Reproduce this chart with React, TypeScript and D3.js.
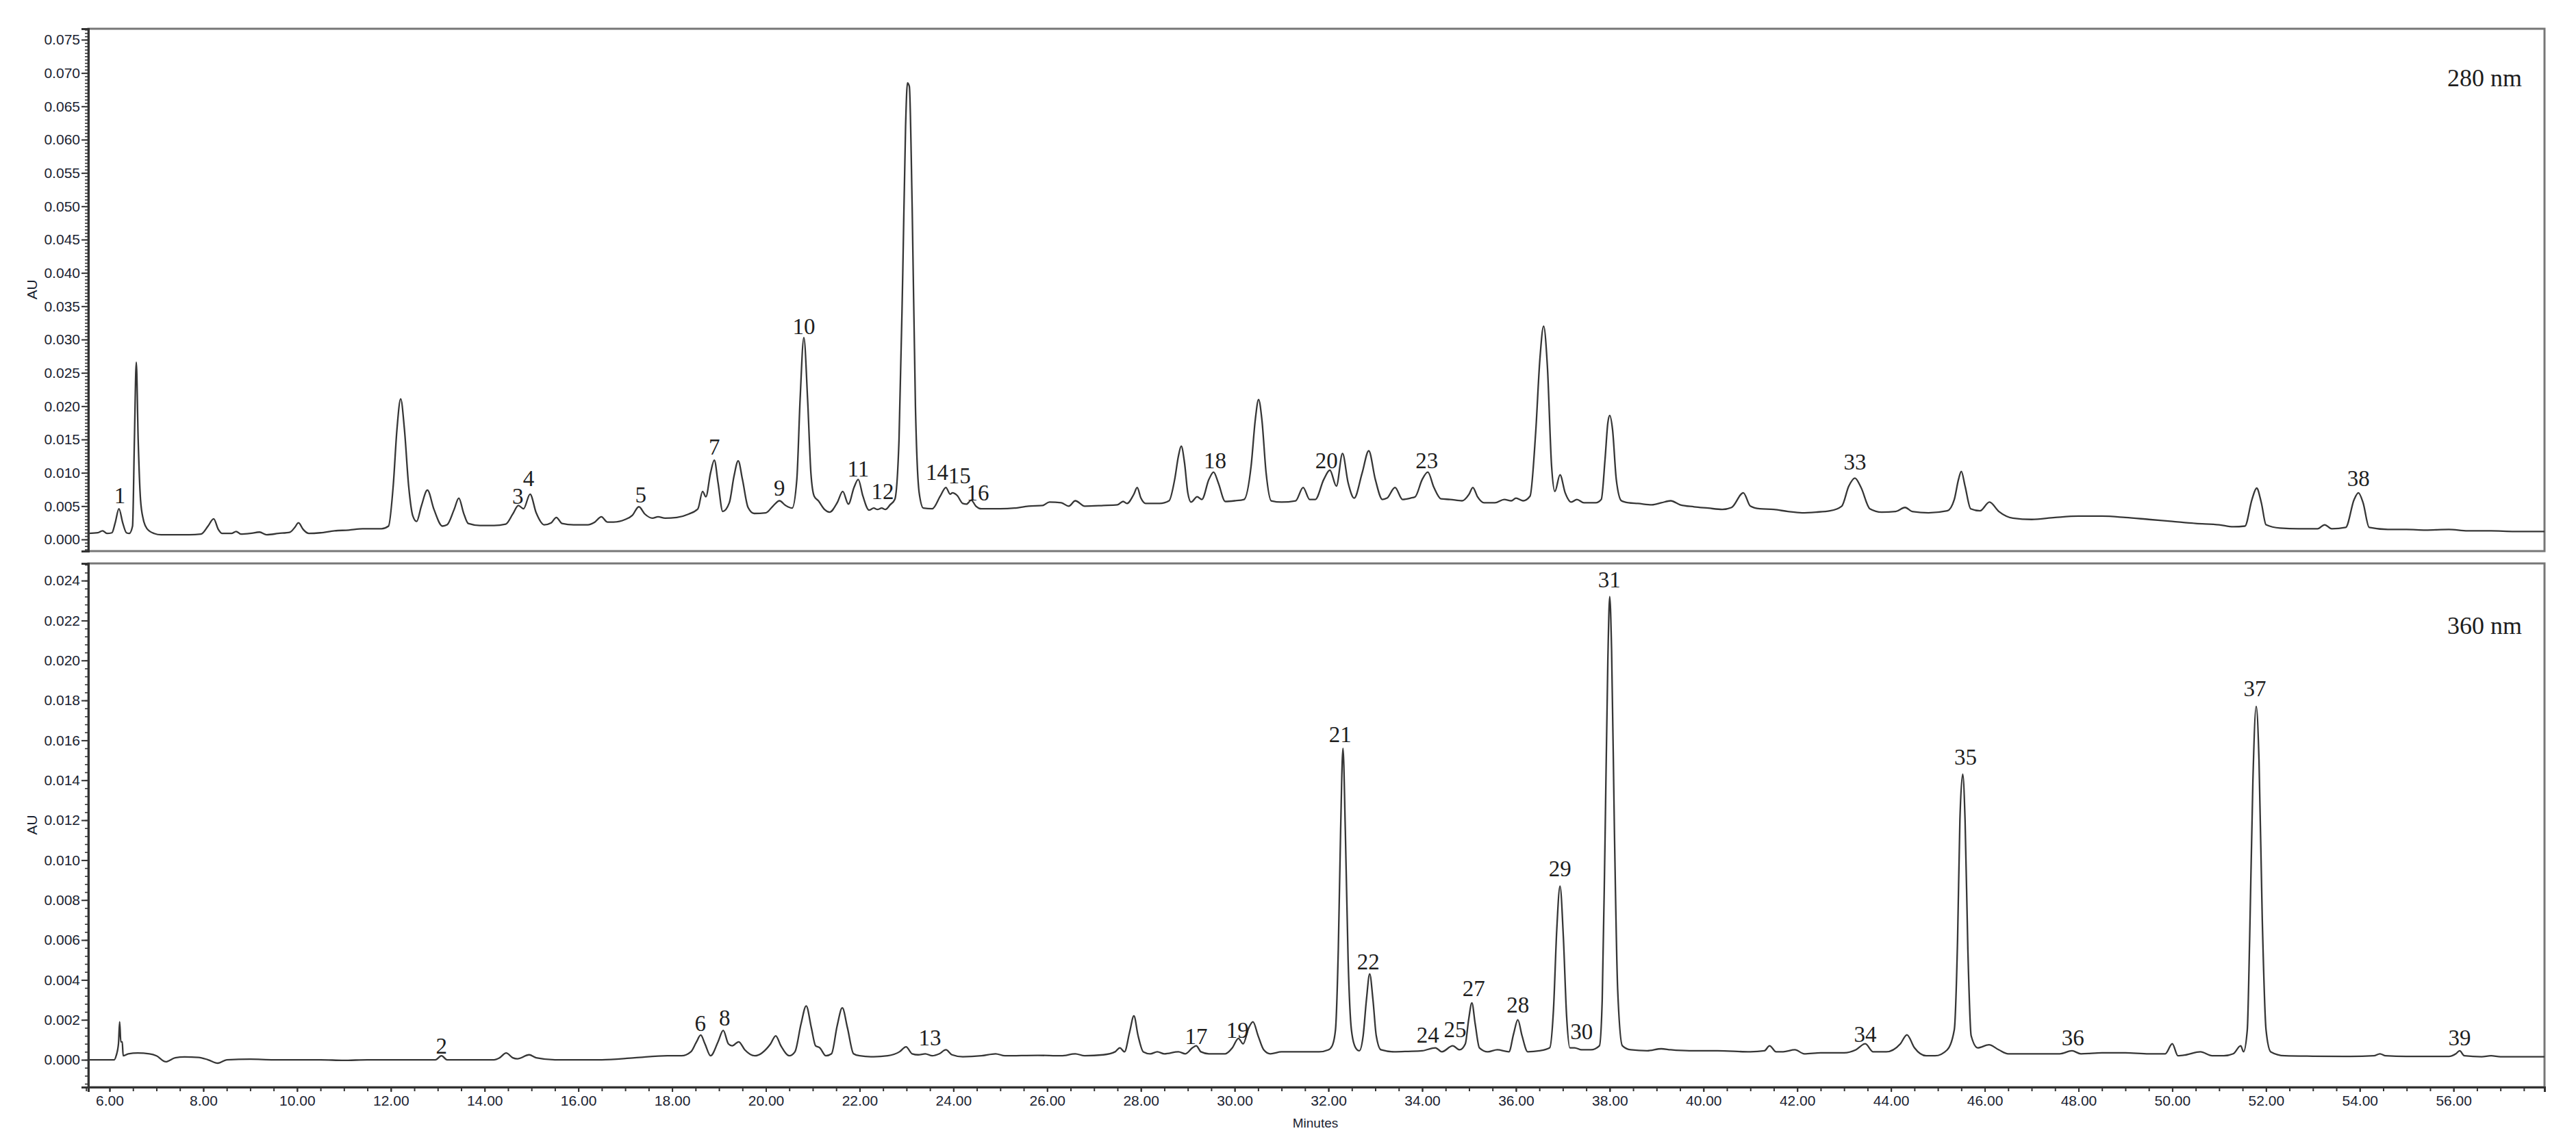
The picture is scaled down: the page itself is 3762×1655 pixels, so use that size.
import React, { useEffect, useRef } from 'react'
import * as d3 from 'd3'

// chromatogram traces: [minutes, AU]
const trace280: [number, number][] = [
  [5.55, 0.0009], [5.75, 0.0010], [5.85, 0.0013], [5.95, 0.0009], [6.05, 0.0010],
  [6.12, 0.0025], [6.20, 0.0046], [6.28, 0.0025], [6.36, 0.0010], [6.42, 0.0009],
  [6.49, 0.0020], [6.53, 0.0150], [6.57, 0.0266], [6.61, 0.0150], [6.66, 0.0060], [6.72, 0.0030], [6.80, 0.0016], [6.95, 0.0009],
  [7.1, 0.0007], [7.4, 0.0007], [7.7, 0.0007], [7.95, 0.0008],
  [8.10, 0.0020], [8.22, 0.0031], [8.32, 0.0015], [8.40, 0.0009], [8.6, 0.0009], [8.7, 0.0012], [8.8, 0.0008], [9.0, 0.0009],
  [9.2, 0.0011], [9.35, 0.0007], [9.6, 0.0009], [9.85, 0.0011],
  [9.95, 0.0018], [10.03, 0.0025], [10.13, 0.0015], [10.25, 0.0009], [10.5, 0.0010], [10.8, 0.0013], [11.1, 0.0014], [11.4, 0.0016],
  [11.8, 0.0016], [11.95, 0.0020],
  [12.05, 0.0080], [12.13, 0.0165], [12.21, 0.0211], [12.29, 0.0165], [12.38, 0.0080], [12.47, 0.0035], [12.55, 0.0027],
  [12.65, 0.0050], [12.78, 0.0074], [12.92, 0.0045], [13.1, 0.0020], [13.2, 0.0022],
  [13.35, 0.0045], [13.45, 0.0062], [13.55, 0.0040], [13.65, 0.0024], [13.9, 0.0021], [14.2, 0.0021], [14.45, 0.0023],
  [14.6, 0.0038], [14.72, 0.0051], [14.83, 0.0046], [14.97, 0.0068], [15.1, 0.0040], [15.27, 0.0022],
  [15.42, 0.0025], [15.53, 0.0033], [15.65, 0.0024], [15.9, 0.0022], [16.2, 0.0022], [16.35, 0.0026], [16.49, 0.0034],
  [16.62, 0.0026], [16.75, 0.0026], [17.0, 0.0030], [17.15, 0.0036],
  [17.29, 0.0049], [17.42, 0.0038], [17.58, 0.0032], [17.7, 0.0034], [17.85, 0.0032], [18.1, 0.0033], [18.35, 0.0038], [18.55, 0.0046],
  [18.65, 0.0072], [18.72, 0.0064],
  [18.82, 0.0100], [18.9, 0.0119], [18.98, 0.0085], [19.08, 0.0042],
  [19.22, 0.0055], [19.32, 0.0095], [19.41, 0.0118], [19.5, 0.0090], [19.62, 0.0048], [19.75, 0.0039], [20.0, 0.0040],
  [20.15, 0.0050], [20.29, 0.0058], [20.42, 0.0051], [20.56, 0.0047],
  [20.66, 0.0090], [20.73, 0.0210], [20.81, 0.0303], [20.89, 0.0210], [20.96, 0.0100], [21.03, 0.0065], [21.12, 0.0058],
  [21.25, 0.0045], [21.36, 0.0041],
  [21.52, 0.0055], [21.64, 0.0072], [21.76, 0.0053],
  [21.88, 0.0078], [21.97, 0.0090], [22.07, 0.0065], [22.2, 0.0044],
  [22.3, 0.0047], [22.38, 0.0045], [22.47, 0.0047], [22.55, 0.0045], [22.65, 0.0052], [22.75, 0.0060],
  [22.84, 0.0150], [22.92, 0.0400], [22.98, 0.0620], [23.02, 0.0685], [23.06, 0.0680], [23.12, 0.0500], [23.19, 0.0200],
  [23.27, 0.0070], [23.36, 0.0047], [23.55, 0.0046],
  [23.72, 0.0065], [23.84, 0.0078], [23.93, 0.0068], [23.98, 0.0070], [24.08, 0.0066], [24.2, 0.0054], [24.28, 0.0053],
  [24.38, 0.0059], [24.48, 0.0050], [24.6, 0.0046], [25.0, 0.0046], [25.3, 0.0047], [25.6, 0.0050], [25.9, 0.0051],
  [26.05, 0.0056], [26.3, 0.0055], [26.46, 0.0050], [26.6, 0.0058], [26.8, 0.0050], [27.2, 0.0051], [27.5, 0.0052],
  [27.62, 0.0057], [27.7, 0.0054],
  [27.85, 0.0068], [27.92, 0.0078], [28.0, 0.0062], [28.1, 0.0054], [28.4, 0.0054], [28.6, 0.0058],
  [28.72, 0.0090], [28.8, 0.0125], [28.86, 0.0140], [28.93, 0.0115], [29.0, 0.0070], [29.07, 0.0056], [29.2, 0.0064], [29.3, 0.0060],
  [29.45, 0.0090], [29.55, 0.0101], [29.65, 0.0085], [29.8, 0.0057], [30.0, 0.0058], [30.2, 0.0060],
  [30.35, 0.0110], [30.44, 0.0180], [30.51, 0.0210], [30.58, 0.0180], [30.67, 0.0100], [30.78, 0.0058], [31.0, 0.0056], [31.3, 0.0058],
  [31.46, 0.0078], [31.6, 0.0060], [31.72, 0.0060],
  [31.9, 0.0090], [32.03, 0.0104], [32.17, 0.0080], [32.3, 0.0129], [32.42, 0.0085], [32.55, 0.0062],
  [32.72, 0.0100], [32.86, 0.0133], [33.0, 0.0090], [33.15, 0.0060], [33.25, 0.0062],
  [33.42, 0.0078], [33.58, 0.0060], [33.75, 0.0062], [33.85, 0.0064],
  [34.0, 0.0090], [34.12, 0.0101], [34.25, 0.0078], [34.4, 0.0061], [34.6, 0.0060], [34.85, 0.0058],
  [35.0, 0.0068], [35.08, 0.0078], [35.18, 0.0064], [35.32, 0.0055], [35.55, 0.0055], [35.75, 0.0060], [35.9, 0.0058],
  [36.0, 0.0062], [36.15, 0.0058], [36.3, 0.0065],
  [36.42, 0.0160], [36.51, 0.0270], [36.59, 0.0320], [36.67, 0.0260], [36.76, 0.0110], [36.83, 0.0072],
  [36.94, 0.0097], [37.05, 0.0070], [37.18, 0.0056], [37.3, 0.0060], [37.45, 0.0055], [37.7, 0.0055], [37.82, 0.0060],
  [37.9, 0.0120], [37.96, 0.0175], [38.0, 0.0186], [38.06, 0.0165], [38.14, 0.0090], [38.25, 0.0058], [38.4, 0.0055],
  [38.6, 0.0054], [38.9, 0.0052], [39.1, 0.0055], [39.3, 0.0058], [39.5, 0.0052], [39.8, 0.0049], [40.1, 0.0047],
  [40.4, 0.0045], [40.6, 0.0048],
  [40.85, 0.0070], [41.0, 0.0050], [41.2, 0.0046], [41.5, 0.0045], [41.8, 0.0042], [42.1, 0.0040], [42.4, 0.0041],
  [42.7, 0.0043], [42.95, 0.0050],
  [43.1, 0.0080], [43.23, 0.0092], [43.36, 0.0078], [43.55, 0.0046], [43.8, 0.0041], [44.1, 0.0042], [44.3, 0.0048],
  [44.45, 0.0042], [44.8, 0.0040], [45.2, 0.0043], [45.35, 0.0060],
  [45.44, 0.0090], [45.5, 0.0102], [45.58, 0.0080], [45.7, 0.0046], [45.9, 0.0043], [46.1, 0.0056], [46.3, 0.0042],
  [46.6, 0.0032], [47.0, 0.0030], [47.5, 0.0033], [48.0, 0.0035], [48.5, 0.0035], [49.0, 0.0033], [49.5, 0.0030],
  [50.0, 0.0027], [50.5, 0.0024], [51.0, 0.0022], [51.3, 0.0019], [51.55, 0.0020],
  [51.7, 0.0060], [51.8, 0.0077], [51.9, 0.0055], [52.0, 0.0022], [52.3, 0.0017], [52.7, 0.0016], [53.1, 0.0016],
  [53.25, 0.0022], [53.4, 0.0016], [53.7, 0.0018],
  [53.88, 0.0060], [53.97, 0.0070], [54.07, 0.0055], [54.2, 0.0018], [54.6, 0.0015], [55.0, 0.0015], [55.4, 0.0014],
  [55.9, 0.0015], [56.3, 0.0013], [56.8, 0.0013], [57.3, 0.0012], [57.94, 0.0012]
]

const trace360: [number, number][] = [
  [5.55, 0.0], [6.1, 0.0], [6.14, 0.0002], [6.19, 0.0008], [6.215, 0.0019], [6.24, 0.0009], [6.27, 0.0009], [6.29, 0.0002],
  [6.4, 0.0003], [6.6, 0.00034], [6.85, 0.0003], [7.0, 0.0002], [7.2, -0.0001], [7.4, 0.0001], [7.6, 0.00014], [7.9, 0.00012],
  [8.1, 0.0], [8.31, -0.00017], [8.5, 0.0], [9.0, 0.00003], [9.5, 0.0], [10.0, 0.0], [10.5, 0.0], [11.0, -0.00003],
  [11.5, 0.0], [12.0, 0.0], [12.95, 0.0],
  [13.08, 0.0002], [13.2, 0.0], [14.2, 0.0], [14.32, 0.0001],
  [14.46, 0.00034], [14.6, 0.0001], [14.7, 0.00005], [14.95, 0.00025], [15.1, 0.0001], [15.5, 0.0], [16.5, 0.0],
  [17.2, 0.0001], [17.9, 0.0002], [18.2, 0.0002], [18.4, 0.0004],
  [18.52, 0.0009], [18.61, 0.00124], [18.7, 0.0008], [18.82, 0.0002],
  [18.98, 0.0009], [19.09, 0.00147], [19.2, 0.0008], [19.28, 0.0007], [19.42, 0.0009], [19.55, 0.0005], [19.76, 0.0002],
  [20.1, 0.0008], [20.21, 0.0012], [20.32, 0.0007], [20.5, 0.0002], [20.62, 0.0004],
  [20.75, 0.0018], [20.86, 0.0027], [20.97, 0.0016], [21.06, 0.0007], [21.15, 0.0006], [21.28, 0.0002], [21.4, 0.0003],
  [21.52, 0.0017], [21.63, 0.0026], [21.74, 0.0016], [21.87, 0.0003], [22.0, 0.0002], [22.3, 0.00015], [22.6, 0.0002],
  [22.85, 0.0004], [22.99, 0.00065], [23.12, 0.0003], [23.25, 0.00025], [23.4, 0.0003], [23.55, 0.0002], [23.7, 0.0003],
  [23.84, 0.0005], [23.97, 0.00025], [24.2, 0.00015], [24.6, 0.0002], [24.9, 0.0003], [25.1, 0.0002], [25.8, 0.00022],
  [26.3, 0.0002], [26.6, 0.0003], [26.8, 0.0002], [27.2, 0.00025], [27.45, 0.0004], [27.55, 0.0006], [27.65, 0.0004],
  [27.76, 0.0014], [27.85, 0.0022], [27.94, 0.0012], [28.05, 0.0004], [28.2, 0.0003], [28.35, 0.0004], [28.5, 0.0003],
  [28.8, 0.0004], [28.95, 0.0003],
  [29.1, 0.0006], [29.18, 0.0007], [29.28, 0.0004], [29.45, 0.0003], [29.8, 0.0003], [29.95, 0.0006],
  [30.08, 0.00107], [30.18, 0.0008], [30.3, 0.0016], [30.39, 0.0019], [30.5, 0.0012], [30.62, 0.0005], [30.76, 0.0003],
  [31.0, 0.0004], [31.2, 0.0004], [31.5, 0.0004], [31.8, 0.0004], [32.0, 0.0005], [32.08, 0.0007],
  [32.15, 0.0015], [32.21, 0.0055], [32.26, 0.0115], [32.31, 0.0156], [32.36, 0.0115], [32.42, 0.0050], [32.49, 0.0015],
  [32.58, 0.0006], [32.66, 0.00045],
  [32.74, 0.0012], [32.81, 0.0030], [32.88, 0.0043], [32.95, 0.0030], [33.02, 0.0012], [33.12, 0.0005], [33.4, 0.0004],
  [33.7, 0.00042], [34.0, 0.00045],
  [34.28, 0.0006], [34.42, 0.0004], [34.65, 0.0007], [34.8, 0.0005], [34.92, 0.0008],
  [34.99, 0.0020], [35.06, 0.00285], [35.13, 0.0018], [35.22, 0.0006], [35.4, 0.0004], [35.6, 0.0005], [35.85, 0.0004],
  [35.95, 0.0013], [36.04, 0.0020], [36.13, 0.0012], [36.25, 0.0004], [36.5, 0.00045], [36.72, 0.0006],
  [36.8, 0.0025], [36.87, 0.0065], [36.94, 0.0087], [37.01, 0.0062], [37.08, 0.0022], [37.15, 0.0006], [37.25, 0.0006],
  [37.4, 0.0005], [37.6, 0.0005], [37.78, 0.0007],
  [37.84, 0.0030], [37.9, 0.0110], [37.96, 0.0200], [38.0, 0.0232], [38.04, 0.0205], [38.1, 0.0115], [38.17, 0.0035],
  [38.27, 0.0007], [38.45, 0.0005], [38.8, 0.00045], [39.1, 0.00055], [39.3, 0.0005], [39.7, 0.00045], [40.3, 0.00045],
  [41.0, 0.0004], [41.3, 0.00045],
  [41.41, 0.0007], [41.55, 0.0004], [41.7, 0.0004], [41.95, 0.0005], [42.15, 0.0003], [42.5, 0.00035], [43.0, 0.00035],
  [43.25, 0.0005], [43.45, 0.0008], [43.62, 0.0004], [43.9, 0.0004], [44.2, 0.0008],
  [44.34, 0.00125], [44.5, 0.0006], [44.75, 0.0002], [44.94, 0.0002], [45.2, 0.0005], [45.35, 0.0015],
  [45.42, 0.0060], [45.47, 0.0120], [45.53, 0.0143], [45.58, 0.0120], [45.64, 0.0055], [45.71, 0.0012], [45.85, 0.0006],
  [46.09, 0.00075], [46.3, 0.0005], [46.5, 0.0003], [47.0, 0.0003], [47.6, 0.0003],
  [47.86, 0.00045], [48.05, 0.0003], [48.5, 0.00035], [49.0, 0.00035], [49.5, 0.0003], [49.85, 0.0003],
  [50.0, 0.0008], [50.12, 0.0002], [50.3, 0.00025], [50.6, 0.0004], [50.85, 0.0002], [51.1, 0.0002], [51.3, 0.0003],
  [51.46, 0.0007], [51.52, 0.0004], [51.6, 0.0015],
  [51.65, 0.0060], [51.72, 0.0140], [51.79, 0.0177], [51.85, 0.0150], [51.92, 0.0070], [52.0, 0.0015], [52.1, 0.0004],
  [52.4, 0.0002], [53.0, 0.00018], [53.8, 0.00017], [54.3, 0.0002],
  [54.43, 0.0003], [54.55, 0.0002], [55.0, 0.00017], [55.9, 0.00017],
  [56.05, 0.0003], [56.13, 0.00045], [56.23, 0.0002], [56.6, 0.00015], [56.8, 0.0002], [57.0, 0.00015], [57.94, 0.00015]
]

// peak numbers: [label, minutes at label centre, AU at label centre]
const peaks280: [string, number, number][] = [
  ['1', 6.22, 0.0066], ['3', 14.71, 0.0065], ['4', 14.94, 0.0092], ['5', 17.33, 0.0067],
  ['7', 18.9, 0.0139], ['9', 20.29, 0.0078], ['10', 20.81, 0.032], ['11', 21.97, 0.0106],
  ['12', 22.49, 0.0072], ['14', 23.65, 0.0101], ['15', 24.13, 0.0096], ['16', 24.52, 0.007],
  ['18', 29.58, 0.0119], ['20', 31.96, 0.0119], ['23', 34.1, 0.0119], ['33', 43.23, 0.0117],
  ['38', 53.97, 0.0092]
]

const peaks360: [string, number, number][] = [
  ['2', 13.08, 0.00072], ['6', 18.6, 0.00183], ['8', 19.12, 0.0021], ['13', 23.5, 0.00113],
  ['17', 29.18, 0.0012], ['19', 30.06, 0.0015], ['21', 32.25, 0.0163], ['22', 32.85, 0.00494],
  ['24', 34.12, 0.00127], ['25', 34.7, 0.00154], ['27', 35.1, 0.0036], ['28', 36.04, 0.00278],
  ['29', 36.94, 0.0096], ['30', 37.4, 0.00144], ['31', 37.99, 0.02404], ['34', 43.45, 0.0013],
  ['35', 45.59, 0.01516], ['36', 47.88, 0.00113], ['37', 51.76, 0.0186], ['39', 56.13, 0.00113]
]

const auTicks280 = [0, 0.005, 0.01, 0.015, 0.02, 0.025, 0.03, 0.035, 0.04, 0.045, 0.05, 0.055, 0.06, 0.065, 0.07, 0.075]
const auTicks360 = [0, 0.002, 0.004, 0.006, 0.008, 0.01, 0.012, 0.014, 0.016, 0.018, 0.02, 0.022, 0.024]
const minuteTicks = [6, 8, 10, 12, 14, 16, 18, 20, 22, 24, 26, 28, 30, 32, 34, 36, 38, 40, 42, 44, 46, 48, 50, 52, 54, 56]

const W = 3762, H = 1655
const left = 129, right = 3716
const sans = 'Liberation Sans, Arial, sans-serif'
const serif = 'Liberation Serif, Times New Roman, serif'
const inkAxis = '#1a2230'

function App() {
  const ref = useRef<SVGSVGElement>(null)

  useEffect(() => {
    const svg = d3.select(ref.current)
    svg.selectAll('*').remove()

    const x = d3.scaleLinear().domain([5.547, 57.94]).range([left, right])

    const panels = [
      { trace: trace280, peaks: peaks280, ticks: auTicks280, dom: [-0.00175, 0.07664], top: 42, bottom: 805, minor: 0.0005, tag: '280 nm', tagY: 126, auY: 423 },
      { trace: trace360, peaks: peaks360, ticks: auTicks360, dom: [-0.00137, 0.02486], top: 823, bottom: 1588, minor: 0.0004, tag: '360 nm', tagY: 926, auY: 1205 }
    ]

    panels.forEach((p, i) => {
      const y = d3.scaleLinear().domain(p.dom).range([p.bottom, p.top])
      const g = svg.append('g')

      g.append('clipPath').attr('id', 'clip' + i)
        .append('rect').attr('x', left).attr('y', p.top).attr('width', right - left).attr('height', p.bottom - p.top)

      // frame
      g.append('rect')
        .attr('x', left).attr('y', p.top)
        .attr('width', right - left).attr('height', p.bottom - p.top)
        .attr('fill', 'none').attr('stroke', '#777').attr('stroke-width', 3)

      // minor ticks
      const minors = d3.range(Math.ceil(p.dom[0] / p.minor) * p.minor, p.dom[1], p.minor)
      const minorAxis = g.append('g').attr('transform', `translate(${left},0)`)
        .call(d3.axisLeft(y).tickValues(minors).tickFormat(() => '').tickSize(5))
      minorAxis.select('.domain').remove()
      minorAxis.selectAll('line').attr('stroke', '#333').attr('stroke-width', 1.6)

      const yAxis = g.append('g').attr('transform', `translate(${left},0)`)
        .call(d3.axisLeft(y).tickValues(p.ticks).tickFormat(d3.format('.3f')).tickSize(10).tickPadding(2))
      yAxis.select('.domain').attr('stroke', '#333').attr('stroke-width', 3)
      yAxis.selectAll('line').attr('stroke', '#333').attr('stroke-width', 2)
      yAxis.selectAll('text').attr('font-family', sans).attr('font-size', 21).attr('fill', inkAxis)

      g.append('text')
        .attr('transform', `translate(47,${p.auY}) rotate(-90)`)
        .attr('text-anchor', 'middle').attr('dy', '0.35em')
        .attr('font-family', sans).attr('font-size', 21).attr('fill', inkAxis)
        .text('AU')

      const line = d3.line<[number, number]>()
        .x(d => x(d[0]))
        .y(d => y(d[1]))
        .curve(d3.curveMonotoneX)

      g.append('path')
        .datum(p.trace)
        .attr('clip-path', `url(#clip${i})`)
        .attr('d', line)
        .attr('fill', 'none')
        .attr('stroke', '#363636')
        .attr('stroke-width', 2.3)
        .attr('stroke-linejoin', 'round')

      g.selectAll('text.peak').data(p.peaks).join('text')
        .attr('class', 'peak')
        .attr('x', d => x(d[1]))
        .attr('y', d => y(d[2]))
        .attr('dy', '0.35em')
        .attr('text-anchor', 'middle')
        .attr('font-family', serif).attr('font-size', 33).attr('fill', '#1e1e1e')
        .text(d => d[0])

      g.append('text')
        .attr('x', 3683).attr('y', p.tagY)
        .attr('text-anchor', 'end')
        .attr('font-family', serif).attr('font-size', 36).attr('fill', '#1e1e1e')
        .text(p.tag)
    })

    // time axis under the 360 nm panel
    const axisY = 1588
    const minorT = svg.append('g').attr('transform', `translate(0,${axisY})`)
      .call(d3.axisBottom(x).tickValues(d3.range(5.5, 57.95, 0.5)).tickFormat(() => '').tickSize(6))
    minorT.select('.domain').remove()
    minorT.selectAll('line').attr('stroke', '#333').attr('stroke-width', 2)

    const xAxis = svg.append('g').attr('transform', `translate(0,${axisY})`)
      .call(d3.axisBottom(x).tickValues(minuteTicks).tickFormat(d3.format('.2f')).tickSize(7).tickPadding(5))
    xAxis.select('.domain').attr('stroke', '#333').attr('stroke-width', 3)
    xAxis.selectAll('line').attr('stroke', '#333').attr('stroke-width', 2)
    xAxis.selectAll('text').attr('font-family', sans).attr('font-size', 21).attr('fill', inkAxis)

    svg.append('text')
      .attr('x', 1921).attr('y', 1647)
      .attr('text-anchor', 'middle')
      .attr('font-family', sans).attr('font-size', 19).attr('fill', inkAxis)
      .text('Minutes')
  }, [])

  return (
    <svg ref={ref} width={W} height={H}
      style={{ position: 'absolute', left: 0, top: 0, background: '#fff' }} />
  )
}

export default App
